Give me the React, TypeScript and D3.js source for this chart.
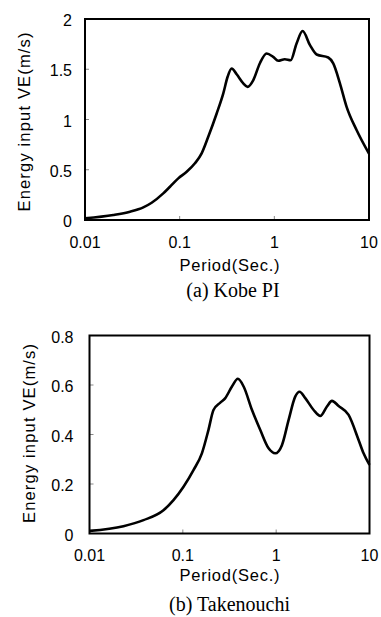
import React from "react";
import * as d3 from "d3";

const kobePeriod = [0.01, 0.0199, 0.0299, 0.0413, 0.0506, 0.0671, 0.079, 0.0967, 0.1186, 0.145, 0.1707, 0.2004, 0.246, 0.289, 0.321, 0.354, 0.4, 0.47, 0.522, 0.598, 0.704, 0.829, 0.973, 1.099, 1.29, 1.486, 1.718, 1.99, 2.38, 2.8, 3.71, 4.19, 4.93, 5.8, 7.39, 10];
const kobeVE = [0.017, 0.05, 0.083, 0.126, 0.172, 0.265, 0.331, 0.414, 0.48, 0.564, 0.663, 0.828, 1.06, 1.26, 1.425, 1.508, 1.45, 1.36, 1.325, 1.39, 1.56, 1.657, 1.623, 1.584, 1.6, 1.59, 1.757, 1.88, 1.74, 1.647, 1.617, 1.558, 1.36, 1.126, 0.895, 0.66];

const takePeriod = [0.01, 0.0231, 0.0379, 0.062, 0.0794, 0.1017, 0.13, 0.16, 0.188, 0.213, 0.252, 0.285, 0.336, 0.389, 0.448, 0.551, 0.676, 0.83, 0.978, 1.153, 1.36, 1.6, 1.78, 2.05, 2.52, 2.97, 3.5, 3.96, 4.67, 5.97, 7.64, 8.64, 10];
const takeVE = [0.0105, 0.0296, 0.054, 0.094, 0.135, 0.189, 0.256, 0.324, 0.418, 0.499, 0.529, 0.547, 0.594, 0.625, 0.594, 0.499, 0.418, 0.344, 0.324, 0.357, 0.459, 0.553, 0.573, 0.547, 0.499, 0.475, 0.513, 0.536, 0.515, 0.479, 0.378, 0.324, 0.277];

const xTicks = [0.01, 0.1, 1, 10];
const xTickLabels = ["0.01", "0.1", "1", "10"];
const kobeYTicks = [0, 0.5, 1, 1.5, 2];
const kobeYLabels = ["0", "0.5", "1", "1.5", "2"];
const takeYTicks = [0, 0.2, 0.4, 0.6, 0.8];
const takeYLabels = ["0", "0.2", "0.4", "0.6", "0.8"];

const xTitle = "Period(Sec.)";
const yTitle = "Energy input VE(m/s)";
const captions = ["(a) Kobe PI", "(b) Takenouchi"];

const sans = "'Liberation Sans', Arial, sans-serif";
const serif = "'Liberation Serif', 'Times New Roman', serif";

type PanelProps = {
  periods: number[];
  values: number[];
  yTicks: number[];
  yLabels: string[];
  yMax: number;
  left: number;
  right: number;
  top: number;
  bottom: number;
  yLabelGap: number;
  yTitleX: number;
  yTitleY: number;
  caption: string;
  captionY: number;
  captionX: number;
  xLabelY: number;
  xTitleY: number;
};

function Panel(p: PanelProps) {
  const x = d3.scaleLog().domain([0.01, 10]).range([p.left, p.right]);
  const y = d3.scaleLinear().domain([0, p.yMax]).range([p.bottom, p.top]);
  const pts: [number, number][] = p.periods.map((t, i) => [x(t), y(p.values[i])]);
  const line = d3.line().curve(d3.curveMonotoneX)(pts) || "";
  return (
    <g>
      {p.yTicks.slice(1, -1).map((v) => (
        <line key={"yt" + v} x1={p.left} x2={p.left + 4} y1={y(v)} y2={y(v)} stroke="#888" strokeWidth={1} />
      ))}
      {xTicks.slice(1, -1).map((v) => (
        <line key={"xt" + v} x1={x(v)} x2={x(v)} y1={p.bottom} y2={p.bottom - 4} stroke="#888" strokeWidth={1} />
      ))}
      <path d={line} fill="none" stroke="#000" strokeWidth={2.6} strokeLinejoin="round" />
      <rect x={p.left} y={p.top} width={p.right - p.left} height={p.bottom - p.top} fill="none" stroke="#000" strokeWidth={2} />
      {p.yTicks.map((v, i) => (
        <text key={"yl" + v} x={p.left - p.yLabelGap} y={y(v) + 7} textAnchor="end" fontSize={16} fontFamily={sans} fill="#000">
          {p.yLabels[i]}
        </text>
      ))}
      {xTicks.map((v, i) => (
        <text key={"xl" + v} x={x(v)} y={p.xLabelY} textAnchor="middle" fontSize={16} fontFamily={sans} fill="#000">
          {xTickLabels[i]}
        </text>
      ))}
      <text x={229.5} y={p.xTitleY} textAnchor="middle" fontSize={16.5} fontFamily={sans} textLength={100} lengthAdjust="spacing" fill="#000">
        {xTitle}
      </text>
      <text transform={`translate(${p.yTitleX},${p.yTitleY}) rotate(-90)`} textAnchor="middle" fontSize={16.5} fontFamily={sans} textLength={179} lengthAdjust="spacing" fill="#000">
        {yTitle}
      </text>
      <text x={p.captionX} y={p.captionY} textAnchor="middle" fontSize={20} fontFamily={serif} fill="#000">
        {p.caption}
      </text>
    </g>
  );
}

export default function App() {
  return (
    <svg width={381} height={617} style={{ position: "absolute", left: 0, top: 0, background: "#fff" }}>
      <Panel
        periods={kobePeriod}
        values={kobeVE}
        yTicks={kobeYTicks}
        yLabels={kobeYLabels}
        yMax={2}
        left={85}
        right={369}
        top={19}
        bottom={220}
        yLabelGap={13}
        yTitleX={30}
        yTitleY={122}
        caption={captions[0]}
        captionX={233}
        captionY={296.5}
        xLabelY={248}
        xTitleY={270.5}
      />
      <Panel
        periods={takePeriod}
        values={takeVE}
        yTicks={takeYTicks}
        yLabels={takeYLabels}
        yMax={0.8}
        left={89.5}
        right={369.5}
        top={335.5}
        bottom={533.5}
        yLabelGap={16}
        yTitleX={35}
        yTitleY={433.5}
        caption={captions[1]}
        captionX={229.5}
        captionY={611}
        xLabelY={561}
        xTitleY={581}
      />
    </svg>
  );
}
